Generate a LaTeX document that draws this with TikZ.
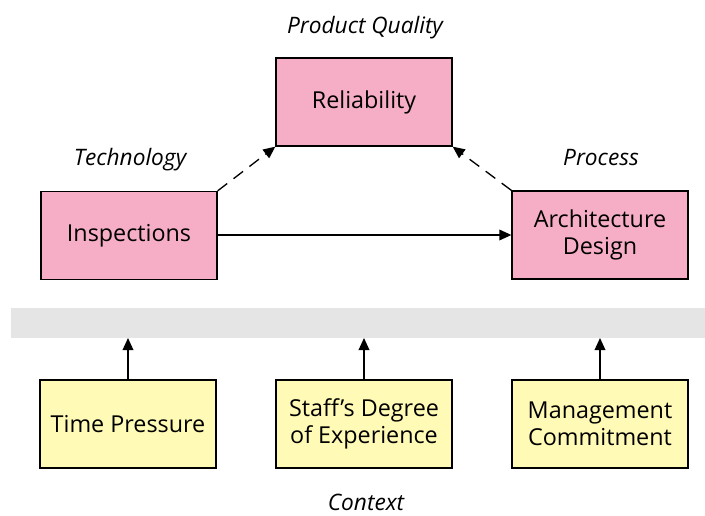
\documentclass[tikz,border=0pt]{standalone}
\usepackage{fontspec}
\setmainfont{Open Sans}
\usetikzlibrary{arrows.meta}
\definecolor{boxpink}{RGB}{246,174,198}
\definecolor{boxyellow}{RGB}{255,250,182}
\definecolor{bandgray}{RGB}{229,229,229}
\tikzset{
  pinkbox/.style={draw,line width=1pt,fill=boxpink,minimum width=132pt,minimum height=66pt,align=center,inner sep=0.75pt,font=\fontsize{17.5}{20}\selectfont},
  yellowbox/.style={pinkbox,fill=boxyellow},
  tag/.style={anchor=base,inner sep=0pt,font=\fontsize{17}{20}\selectfont\itshape},
  tip/.style={-{Triangle[width=8pt,length=9pt]},line width=1pt}
}
\begin{document}
\begin{tikzpicture}[x=0.75pt,y=0.75pt,yscale=-1,xscale=1]
\useasboundingbox (0,0) rectangle (705,516);

%Shape: Rectangle (context band)
\fill [bandgray] (11,308) rectangle (705,338);
\coordinate (band) at (364,338);

%Product quality boxes
\node [pinkbox] (rel) at (364,102) {Reliability};
\node [pinkbox] (insp) at (129,235.5) {Inspections};
\node [pinkbox] (arch) at (600,235) {Architecture\\Design};

%Context boxes
\node [yellowbox] (time) at (128,424) {Time Pressure};
\node [yellowbox] (staff) at (364,424) {Staff's Degree\\of Experience};
\node [yellowbox] (mgmt) at (600,424) {Management\\Commitment};

% Text Node
\node [tag] (qual) at (365,34) {Product Quality};
% Text Node
\node [tag] (tech) at (130,166) {Technology};
% Text Node
\node [tag] (proc) at (601,166) {Process};
% Text Node
\node [tag] (ctx) at (366,510) {Context};

%Arrows
\draw [tip,dashed,dash pattern=on 9pt off 6pt] (insp.north east) -- (rel.south west);
\draw [tip,dashed,dash pattern=on 9pt off 6pt] (arch.north west) -- (rel.south east);
\draw [tip] (insp.east |- arch.west) -- (arch.west);
\draw [tip] (time.north) -- (time.north |- band);
\draw [tip] (staff.north) -- (staff.north |- band);
\draw [tip] (mgmt.north) -- (mgmt.north |- band);

\end{tikzpicture}
\end{document}
